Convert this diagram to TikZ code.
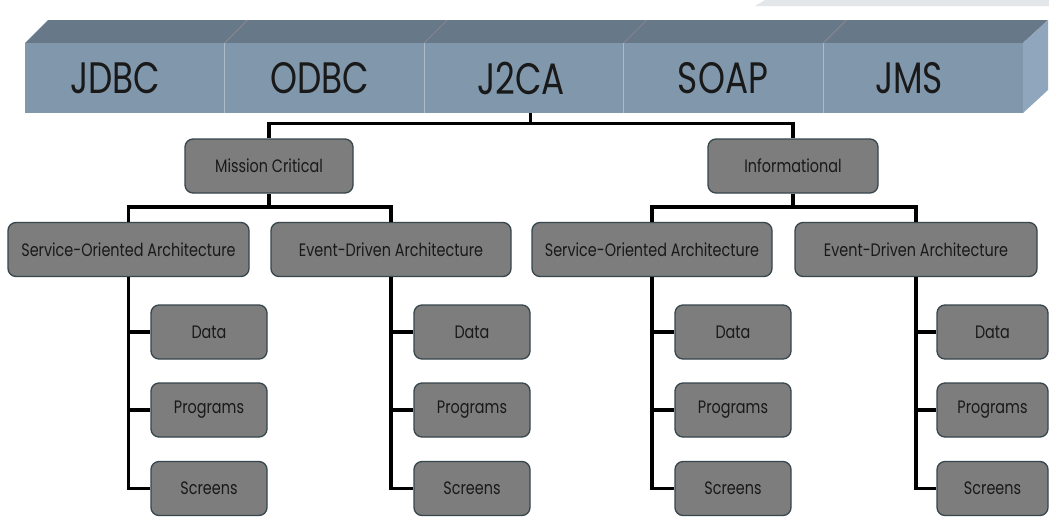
\documentclass[tikz,border=0pt]{standalone}
\usepackage{fontspec}
\setmainfont{Poppins}[FakeStretch=0.8]
\newfontfamily\barfont{Poppins}[FakeStretch=0.78]
\usetikzlibrary{calc}
\definecolor{barfront}{RGB}{129,152,172}
\definecolor{bartop}{RGB}{103,121,136}
\definecolor{barside}{RGB}{143,166,189}
\definecolor{barline}{RGB}{170,188,204}
\definecolor{toplineC}{RGB}{150,138,146}
\definecolor{boxfill}{RGB}{125,125,125}
\definecolor{boxedge}{RGB}{55,70,76}
\definecolor{inkC}{RGB}{25,25,25}
\definecolor{bandC}{RGB}{228,231,234}
\tikzset{
  cell/.style={minimum width=199.6pt, minimum height=70pt, inner sep=0pt,
    font=\barfont\fontsize{44}{44}\selectfont, text=inkC},
  tbox/.style={draw=boxedge, fill=boxfill, line width=1.3pt, rounded corners=8pt,
    inner sep=0pt, minimum height=54pt, text=inkC, font=\fontsize{18}{19}\selectfont},
  leaf/.style={tbox, minimum width=116pt},
  conn/.style={draw=black, line width=3.4pt, line join=miter},
}
\begin{document}
\begin{tikzpicture}[x=1pt,y=-1pt]
\useasboundingbox[fill=white] (0,0) rectangle (1049,517);

% light band at the top edge
\fill[bandC] (755,6) -- (765,0) -- (1049,0) -- (1049,6) -- cycle;

% 3D bar of connectors
\fill[bartop] (25,43) -- (48,20) -- (1048,20) -- (1023,43) -- cycle;
\fill[barside] (1023,43) -- (1048,20) -- (1048,90) -- (1023,113) -- cycle;
\fill[barfront] (25,43) rectangle (1023,113);
\foreach \x in {224.6,424.2,623.8,823.4}{
  \draw[barline, line width=1pt] (\x,43) -- (\x,113);
  \draw[toplineC, line width=0.6pt] (\x,43) -- (\x+23,20);
}
\node[cell] (jdbc) at (115,78) {JDBC};
\node[cell] (odbc) at (320,78) {ODBC};
\node[cell] (j2ca) at (521,78) {J2CA};
\node[cell] (soap) at (723,78) {SOAP};
\node[cell] (jms)  at (909,78) {JMS};
\coordinate (barbase) at (530.5,113);

% level 1
\node[tbox, minimum width=168pt] (mc)  at (269,166) {Mission Critical};
\node[tbox, minimum width=170pt] (inf) at (793,166) {Informational};

% level 2
\node[tbox, minimum width=241pt] (soa1) at (128.5,249.5) {Service-Oriented Architecture};
\node[tbox, minimum width=240pt] (eda1) at (391,249.5) {Event-Driven Architecture};
\node[tbox, minimum width=240pt] (soa2) at (652,249.5) {Service-Oriented Architecture};
\node[tbox, minimum width=242pt] (eda2) at (916,249.5) {Event-Driven Architecture};

% level 3
\node[leaf] (d1) at (209,332) {Data};
\node[leaf] (p1) at (209,410) {Programs};
\node[leaf] (s1) at (209,488.5) {Screens};
\node[leaf] (d2) at (472,332) {Data};
\node[leaf] (p2) at (472,410) {Programs};
\node[leaf] (s2) at (472,488.5) {Screens};
\node[leaf] (d3) at (733,332) {Data};
\node[leaf] (p3) at (733,410) {Programs};
\node[leaf] (s3) at (733,488.5) {Screens};
\node[tbox, minimum width=111pt] (d4) at (992.5,332) {Data};
\node[tbox, minimum width=111pt] (p4) at (992.5,410) {Programs};
\node[tbox, minimum width=111pt] (s4) at (992.5,488.5) {Screens};

% connectors: bar to level 1
\draw[conn] (barbase) -- ++(0,11);
\draw[conn] (mc.north) -- ++(0,-15) -| (inf.north);

% level 1 to level 2
\draw[conn] (mc.south) -- ++(0,15);
\draw[conn] (soa1.north) -- ++(0,-15) -| (eda1.north);
\draw[conn] (inf.south) -- ++(0,15);
\draw[conn] (soa2.north) -- ++(0,-15) -| (eda2.north);

% level 2 to level 3
\foreach \p/\a/\b/\c in {soa1/d1/p1/s1, eda1/d2/p2/s2, soa2/d3/p3/s3, eda2/d4/p4/s4}{
  \draw[conn] (\p.south) |- (\c.west);
  \draw[conn] (\a.west) -- (\a.west -| \p.south);
  \draw[conn] (\b.west) -- (\b.west -| \p.south);
}
\end{tikzpicture}
\end{document}
